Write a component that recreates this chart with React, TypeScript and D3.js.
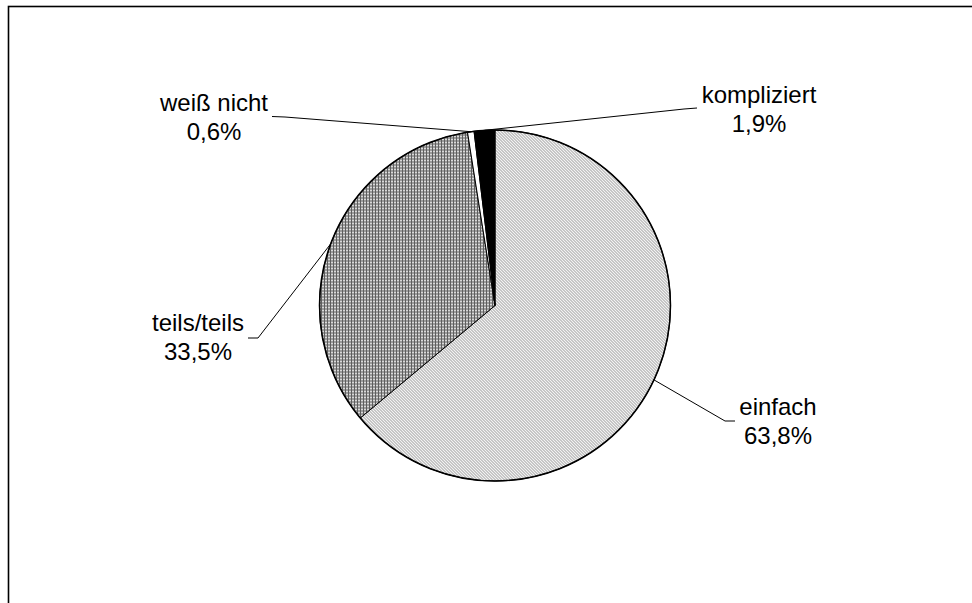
import * as d3 from 'd3';
import React from 'react';

// slice order, clockwise from 12 o'clock
const categories = ['einfach', 'teils/teils', 'weiß nicht', 'kompliziert'];
const shares = [63.8, 33.5, 0.6, 1.9];
const valueLabels = ['63,8%', '33,5%', '0,6%', '1,9%'];

// label anchor (text centre, first baseline) and leader elbow per slice
const labelLayout = [
  { x: 778, y: 415, elbow: [[735, 421], [725, 421]] },
  { x: 198, y: 331, elbow: [[248, 338], [258, 338]] },
  { x: 214, y: 111, elbow: [[272, 116.5], [285, 117]] },
  { x: 759, y: 103, elbow: [[697, 108], [684, 109]] },
];

const fills = ['url(#hatchDiag)', 'url(#hatchGrid)', '#ffffff', '#000000'];

const width = 972;
const height = 603;
const cx = 495;
const cy = 305.5;
const radius = 175.5;

export default function App() {
  const pie = d3
    .pie<number>()
    .sort(null)
    .value((d) => d);
  const arcs = pie(shares);
  const arc = d3.arc<d3.PieArcDatum<number>>().innerRadius(0).outerRadius(radius);
  const edge = d3.arc<d3.PieArcDatum<number>>().innerRadius(radius).outerRadius(radius);

  return (
    <svg
      width={width}
      height={height}
      style={{ position: 'fixed', left: 0, top: 0, background: '#fff' }}
      fontFamily="'Liberation Sans', Arial, sans-serif"
    >
      <defs>
        <pattern id="hatchDiag" patternUnits="userSpaceOnUse" width={3} height={3}>
          <rect width={3} height={3} fill="#f2f2f2" />
          <rect x={0} y={0} width={1} height={1} fill="#9a9a9a" />
          <rect x={1} y={1} width={1} height={1} fill="#9a9a9a" />
          <rect x={2} y={2} width={1} height={1} fill="#9a9a9a" />
        </pattern>
        <pattern id="hatchGrid" patternUnits="userSpaceOnUse" width={3} height={3}>
          <rect width={3} height={3} fill="#d9d9d9" />
          <rect width={3} height={1} fill="#5e5e5e" />
          <rect width={1} height={3} fill="#5e5e5e" />
        </pattern>
      </defs>

      <rect x={8.5} y={6.5} width={1000} height={700} fill="none" stroke="#000" strokeWidth={1.6} />

      <g transform={`translate(${cx},${cy})`}>
        {arcs.map((a, i) => (
          <path key={categories[i]} d={arc(a) || ''} fill={fills[i]} stroke="#000" strokeWidth={1} />
        ))}
        <circle r={radius} fill="none" stroke="#000" strokeWidth={1.5} />
      </g>

      {arcs.map((a, i) => {
        const [ex, ey] = edge.centroid(a);
        const pts: [number, number][] = [
          [ex + cx, ey + cy],
          ...(labelLayout[i].elbow.slice().reverse() as [number, number][]),
        ];
        return (
          <path
            key={`lead-${i}`}
            d={d3.line()(pts) || ''}
            fill="none"
            stroke="#000"
            strokeWidth={1}
          />
        );
      })}

      {categories.map((c, i) => (
        <text key={`lab-${i}`} textAnchor="middle" fontSize={24} fill="#000">
          <tspan x={labelLayout[i].x} y={labelLayout[i].y}>
            {c}
          </tspan>
          <tspan x={labelLayout[i].x} y={labelLayout[i].y + 29}>
            {valueLabels[i]}
          </tspan>
        </text>
      ))}
    </svg>
  );
}
